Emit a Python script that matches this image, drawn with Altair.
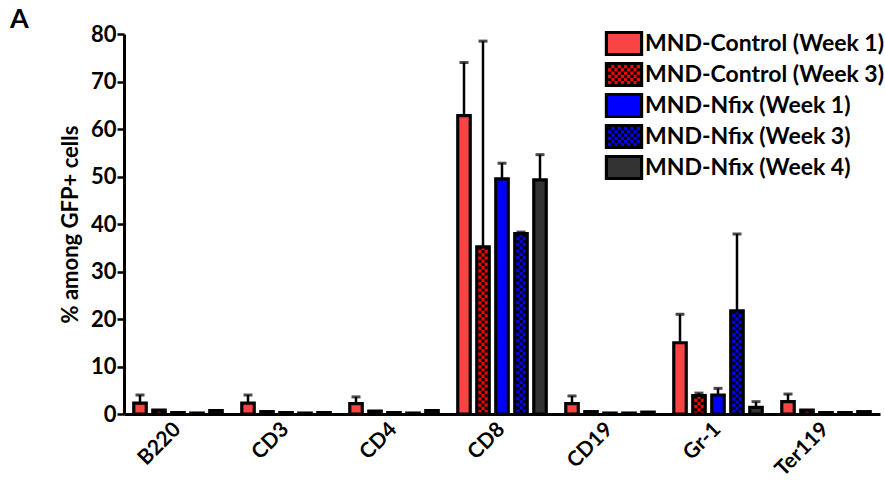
import altair as alt
import pandas as pd

# ---------------- data ----------------
categories = ["B220", "CD3", "CD4", "CD8", "CD19", "Gr-1", "Ter119"]
series = [
    "MND-Control (Week 1)",
    "MND-Control (Week 3)",
    "MND-Nfix (Week 1)",
    "MND-Nfix (Week 3)",
    "MND-Nfix (Week 4)",
]

ctrl_w1 = [2.3, 2.3, 2.2, 62.8, 2.2, 15.0, 2.6]
ctrl_w1_err = [1.7, 1.7, 1.4, 11.2, 1.6, 6.0, 1.6]
ctrl_w3 = [0.8, 0.5, 0.6, 35.2, 0.5, 3.9, 0.8]
ctrl_w3_err = [0.0, 0.0, 0.0, 43.3, 0.0, 0.5, 0.0]
nfix_w1 = [0.3, 0.3, 0.3, 49.5, 0.2, 4.0, 0.3]
nfix_w1_err = [0.0, 0.0, 0.0, 3.3, 0.0, 1.4, 0.0]
nfix_w3 = [0.2, 0.2, 0.2, 38.0, 0.2, 21.7, 0.3]
nfix_w3_err = [0.0, 0.0, 0.0, 0.3, 0.0, 16.2, 0.0]
nfix_w4 = [0.7, 0.3, 0.7, 49.3, 0.4, 1.4, 0.5]
nfix_w4_err = [0.0, 0.0, 0.0, 5.3, 0.0, 1.2, 0.0]

means = [ctrl_w1, ctrl_w3, nfix_w1, nfix_w3, nfix_w4]
errors = [ctrl_w1_err, ctrl_w3_err, nfix_w1_err, nfix_w3_err, nfix_w4_err]
checkered = [False, True, False, True, False]

# ---------------- style ----------------
colors = ["#FA4444", "#FF0000", "#0000FF", "#0000FF", "#333333"]
FONT = "Lato"
CELL = 3.2
COLW = 19 / 6
SW = COLW  # outline width of bars and legend swatches

rows = []
for si, s in enumerate(series):
    for ci, c in enumerate(categories):
        v = means[si][ci]
        e = errors[si][ci]
        rows.append({"category": c, "series": s, "value": v, "err": e, "top": v + e})
df = pd.DataFrame(rows)
df_err = df[df["err"] > 0]

pattern_keys = [f"p{i + 1}" for i in range(len(series))]
pattern_colors = ["black" if ck else "transparent" for ck in checkered]

crow = []
for si, s in enumerate(series):
    if not checkered[si]:
        continue
    for ci, c in enumerate(categories):
        for j in range(3):
            crow.append({"category": c, "slot": f"{s}|{j}", "value": means[si][ci],
                         "parity": j % 2, "pattern": pattern_keys[si]})
df_chk = pd.DataFrame(crow)
slot_domain = [f"{s}|{k}" for s in series for k in ["g0", "0", "1", "2", "g1", "g2"]]

# legend symbol paths (unit = 11 px for symbol size 484)
R = 11.0
rect_path = "M-1.6,-1H1.6V1H-1.6Z"
inner_h = R - SW / 2
parts = ["M-1.6,-1L-1.6,-1M1.6,1L1.6,1"]  # zero-length: same bounds as rect
for k in range(10):
    cx = (-14.265 + COLW * k) / R
    y0 = -inner_h if k % 2 == 0 else -inner_h + CELL
    parts.append(f"M{cx:.4f},{y0 / R:.4f}V{inner_h / R:.4f}")
checker_path = "".join(parts)

LEG_X = 487
LEG_Y = -3.5
common_leg = dict(title=None, orient="none", legendX=LEG_X, legendY=LEG_Y, symbolSize=484,
                  labelFont=FONT, labelFontSize=23, labelFontWeight="bold", labelOffset=8,
                  rowPadding=-8, labelLimit=400, symbolOpacity=1, symbolStrokeWidth=SW)

# ---------------- encodings ----------------
x_axis = alt.Axis(labelAngle=-45, labelFontSize=21, labelFont=FONT, labelFontWeight="bold",
                  labelColor="black", ticks=False, domainWidth=3, domainColor="black",
                  labelAlign="right", labelBaseline="middle", labelOffset=-2, labelPadding=12,
                  title=None, grid=False)
y_axis = alt.Axis(values=list(range(0, 81, 10)), labelFontSize=22, labelFont=FONT,
                  labelFontWeight="bold", labelColor="black", tickSize=7, tickWidth=2.5,
                  tickColor="black", domainWidth=3, domainColor="black", labelPadding=1,
                  title="% among GFP+ cells", titleFontSize=22, titleFont=FONT,
                  titleFontWeight="bold", titleColor="black", titlePadding=8, grid=False)

x_enc = alt.X("category:N", sort=categories,
              scale=alt.Scale(domain=categories, paddingInner=13 / 108, paddingOuter=6.5 / 108,
                              align=0.622),
              axis=x_axis)
y_scale = alt.Scale(domain=[0, 80], nice=False, zero=True)
xo_bar = alt.XOffset("series:N", scale=alt.Scale(domain=series, paddingInner=0.342,
                                                 paddingOuter=0.171, align=0.256))
xo_chk = alt.XOffset("slot:N", scale=alt.Scale(domain=slot_domain, paddingInner=0,
                                               paddingOuter=0))

err_rule = alt.Chart(df_err).mark_rule(color="black", strokeWidth=2.5).encode(
    x=x_enc, xOffset=xo_bar,
    y=alt.Y("value:Q", scale=y_scale, axis=y_axis),
    y2="top:Q",
)
err_cap = alt.Chart(df_err).mark_tick(color="black", size=9, thickness=3).encode(
    x=x_enc, xOffset=xo_bar,
    y=alt.Y("top:Q", scale=y_scale, axis=y_axis),
)

bars = alt.Chart(df).mark_bar(stroke="black", strokeWidth=SW).encode(
    x=x_enc, xOffset=xo_bar,
    y=alt.Y("value:Q", scale=y_scale, axis=y_axis),
    fill=alt.Fill("series:N", scale=alt.Scale(domain=series, range=colors),
                  legend=alt.Legend(symbolType=rect_path, labelColor="black",
                                    symbolStrokeColor="black", **common_leg)),
)


def checker_layer(parity, offset):
    return alt.Chart(df_chk).transform_filter(
        alt.datum.parity == parity
    ).mark_rule(strokeWidth=COLW, strokeDash=[CELL, CELL], strokeDashOffset=offset).encode(
        x=x_enc, xOffset=xo_chk,
        y=alt.Y("value:Q", scale=y_scale, axis=y_axis),
        y2=alt.datum(0),
        stroke=alt.Stroke("pattern:N", scale=alt.Scale(domain=pattern_keys, range=pattern_colors),
                          legend=alt.Legend(symbolType=checker_path, symbolFillColor="transparent",
                                            symbolDash=[CELL, CELL], symbolDashOffset=0,
                                            labelExpr="' '", labelColor="transparent",
                                            **common_leg)),
    )


chart = alt.layer(
    err_rule, err_cap, bars, checker_layer(0, 0), checker_layer(1, CELL)
).resolve_scale(
    xOffset="independent"
).properties(
    width=756,
    height=380,
    autosize=alt.AutoSizeParams(type="none"),
    padding={"left": 124, "top": 34, "right": 5, "bottom": 74},
    title=alt.TitleParams(text="A", anchor="start", frame="group", fontSize=27, font=FONT,
                          fontWeight="bold", color="black", dx=-114, offset=-11),
).configure_view(
    strokeWidth=0
).configure_axis(
    grid=False
)

chart.save("out.html", embed_options={"renderer": "svg", "actions": False})
